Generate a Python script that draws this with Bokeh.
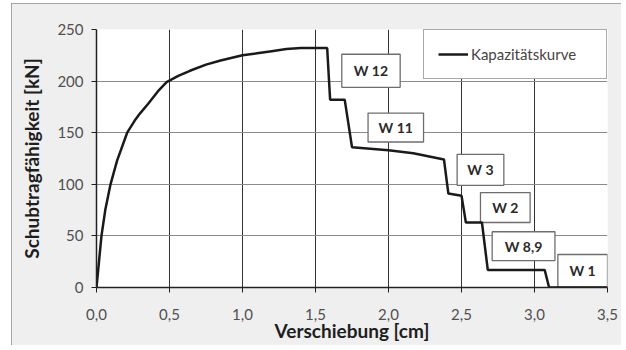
from bokeh.plotting import figure
from bokeh.models import FixedTicker, Range1d, Legend, LegendItem, ColumnDataSource
from bokeh.core.properties import value
from bokeh.embed import file_html
from bokeh.resources import INLINE

# Kapazitätskurve (Verschiebung in cm, Schubtragfähigkeit in kN)
disp = [0.000, 0.034, 0.060, 0.096, 0.141, 0.210, 0.250, 0.263, 0.300, 0.354, 0.420,
        0.480, 0.560, 0.640, 0.750, 0.850, 1.000, 1.100, 1.200, 1.300, 1.400, 1.580,
        1.600, 1.700, 1.750, 2.000, 2.170, 2.380, 2.410, 2.500,
        2.530, 2.640, 2.680, 3.070, 3.100, 3.500]
force = [0, 50, 75, 100, 123, 150, 159, 162, 169, 178, 190,
         199, 205, 210, 216, 220, 225, 227, 229, 231, 232, 232,
         182, 182, 136, 133, 130, 124, 91, 89,
         63, 63, 17, 17, 0, 0]

# Wand-Beschriftungen (Kästchen)
wall_labels = ["W 12", "W 11", "W 3", "W 2", "W 8,9", "W 1"]
box_left = [1.68, 1.86, 2.47, 2.63, 2.71, 3.16]
box_right = [2.08, 2.24, 2.79, 2.97, 3.14, 3.50]
box_bottom = [194, 141, 99, 63, 26, 0]
box_top = [226, 169, 129, 92, 54, 32]

x_ticks = [0.0, 0.5, 1.0, 1.5, 2.0, 2.5, 3.0, 3.5]
x_tick_labels = ["0,0", "0,5", "1,0", "1,5", "2,0", "2,5", "3,0", "3,5"]
y_ticks = [0, 50, 100, 150, 200, 250]
x_title = "Verschiebung [cm]"
y_title = "Schubtragfähigkeit [kN]"

FONT = "Lato"

p = figure(width=610, height=342, output_backend="svg", toolbar_location=None,
           x_range=Range1d(0, 3.5), y_range=Range1d(0, 250),
           min_border_left=85, min_border_right=14, min_border_top=26, min_border_bottom=58)
p.border_fill_color = "#efefef"
p.background_fill_color = "white"
p.outline_line_color = None
p.styles = {"outline": "2px solid #8c8c8c", "outline-offset": "-2px",
            "margin-left": "11px", "margin-top": "3px"}

# axes
p.xaxis.ticker = FixedTicker(ticks=x_ticks)
p.xaxis.major_label_overrides = {t: l for t, l in zip(x_ticks, x_tick_labels)}
p.yaxis.ticker = FixedTicker(ticks=y_ticks)
for ax in (p.xaxis, p.yaxis):
    ax.axis_line_color = "#222222"
    ax.axis_line_width = 1.5
    ax.major_tick_line_color = "#222222"
    ax.major_tick_in = 0
    ax.major_tick_out = 5
    ax.minor_tick_line_color = None
    ax.major_label_text_font = FONT
    ax.major_label_text_font_size = "15px"
    ax.major_label_text_color = "#505050"
    ax.axis_label_text_font = FONT
    ax.axis_label_text_font_style = "bold"
    ax.axis_label_text_font_size = "19px"
    ax.axis_label_text_color = "#1e1e1e"
p.xaxis.axis_label = x_title
p.yaxis.axis_label = y_title
p.xaxis.major_label_standoff = 16
p.xaxis.axis_label_standoff = -4
p.yaxis.major_label_standoff = 8
p.yaxis.axis_label_standoff = 11

p.xgrid.ticker = FixedTicker(ticks=x_ticks)
p.ygrid.ticker = FixedTicker(ticks=y_ticks[:-1])
p.xgrid.grid_line_color = "#333333"
p.xgrid.grid_line_width = 1
p.ygrid.grid_line_color = "#8a8a8a"
p.ygrid.grid_line_width = 1.2

# label boxes
src = ColumnDataSource(dict(l=box_left, r=box_right, b=box_bottom, t=box_top,
                            xc=[(a + b) / 2 for a, b in zip(box_left, box_right)],
                            yc=[(a + b) / 2 for a, b in zip(box_bottom, box_top)],
                            txt=wall_labels))
p.quad(left="l", right="r", bottom="b", top="t", source=src,
       fill_color="white", line_color="#6e6e6e", line_width=1.3)
p.text(x="xc", y="yc", text="txt", source=src, text_font=value(FONT),
       text_font_style="bold", text_font_size="14px", text_color="#2a2a2a",
       text_align="center", text_baseline="middle")

curve = p.line(disp, force, line_color="#1a1a1a", line_width=2.5)

legend = Legend(items=[LegendItem(label="Kapazitätskurve", renderers=[curve])],
                location="top_right")
legend.margin = 0
legend.padding = 14
legend.glyph_width = 30
legend.glyph_height = 20
legend.label_height = 20
legend.label_standoff = 3
legend.label_width = 121
legend.label_text_font = FONT
legend.label_text_font_size = "15px"
legend.label_text_color = "#444444"
legend.border_line_color = "#555555"
legend.border_line_width = 1
legend.background_fill_color = "white"
legend.background_fill_alpha = 1
p.add_layout(legend)

open("out.html", "w").write(file_html(p, INLINE))
